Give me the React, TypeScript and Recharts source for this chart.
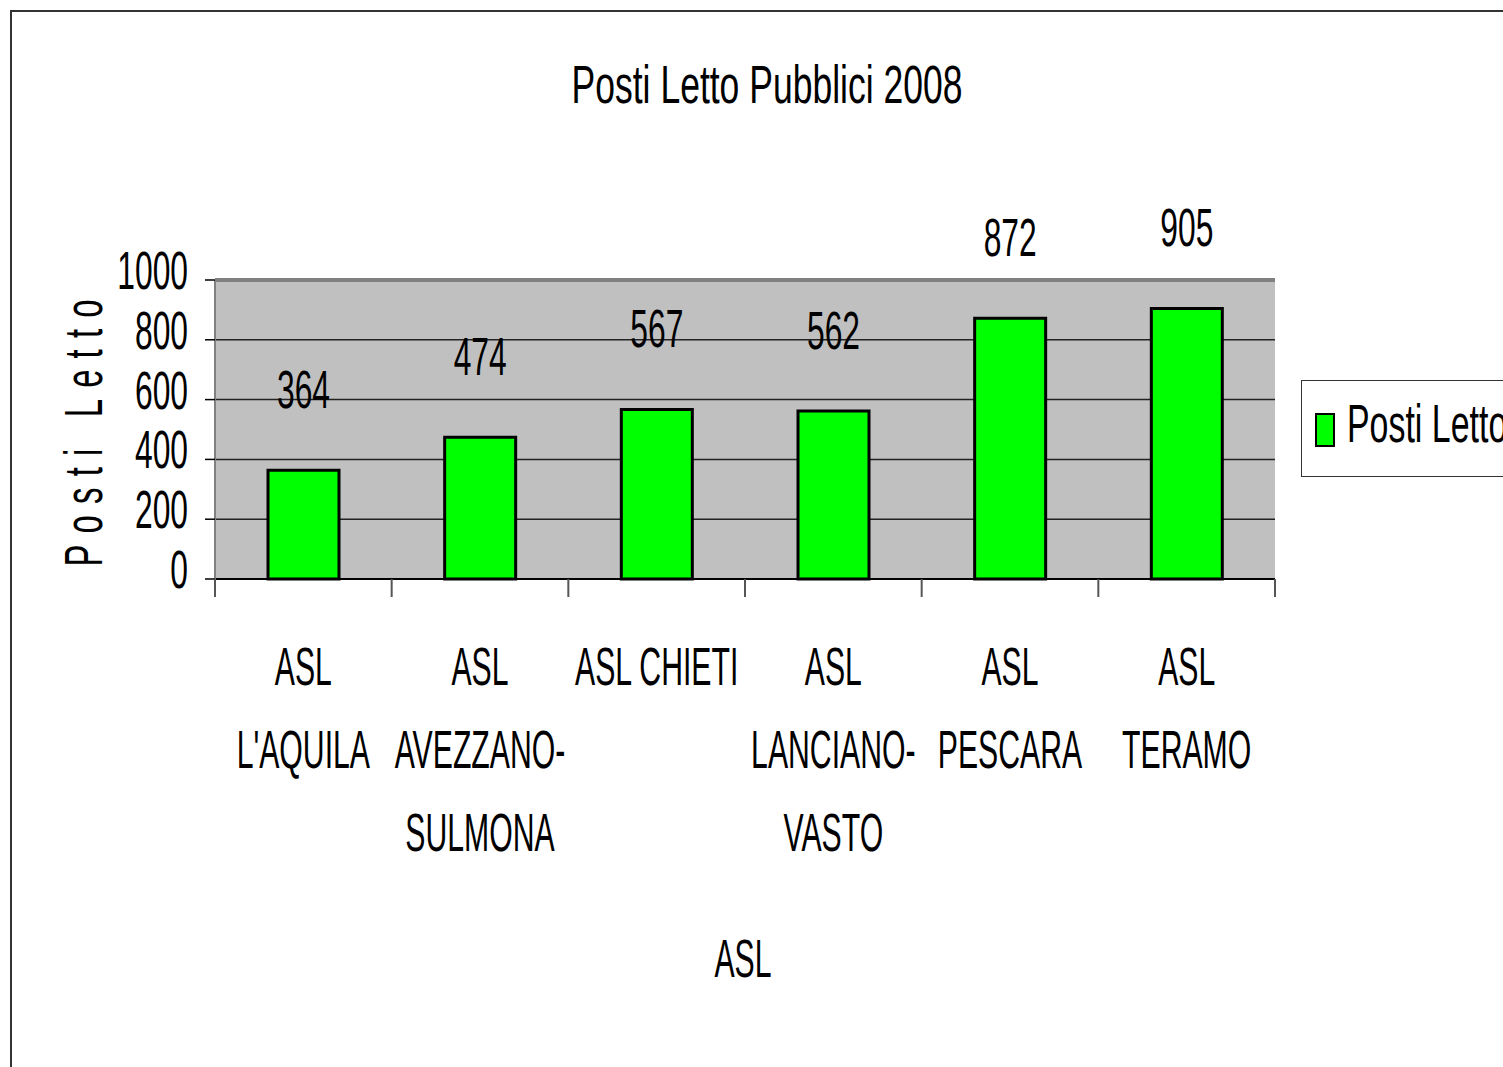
import React from "react";
import {
  Bar,
  BarChart,
  CartesianGrid,
  LabelList,
  Legend,
  ReferenceLine,
  XAxis,
  YAxis,
} from "recharts";

const categories = [
  "ASL L'AQUILA",
  "ASL AVEZZANO-SULMONA",
  "ASL CHIETI",
  "ASL LANCIANO-VASTO",
  "ASL PESCARA",
  "ASL TERAMO",
];
const postiLetto = [364, 474, 567, 562, 872, 905];
const yTicks = [0, 200, 400, 600, 800, 1000];

const FONT = "'Liberation Sans Narrow', 'Liberation Sans', Arial, sans-serif";
const W = 1503;
const H = 1067;
const PLOT_LEFT = 215;
const PLOT_RIGHT = 1275;
const PLOT_TOP = 280;
const PLOT_BOTTOM = 579;
const BAND = (PLOT_RIGHT - PLOT_LEFT) / categories.length;

// horizontal squeeze, the original uses a condensed face
const SX_CAPS = 0.57;
const SX_DIGITS = 0.6;
const SX_TITLE = 0.67;

const data = categories.map((name, i) => ({ name, value: postiLetto[i] }));

// rough width of a string, narrow glyphs count half
function approxWidth(s: string) {
  let w = 0;
  for (const c of s) w += " I'-.".includes(c) ? 0.5 : 1;
  return w;
}

// break a category name into lines, the way the original wraps it
function wrap(label: string, maxW = 9): string[] {
  const tokens = label.replace(/-/g, "- ").split(" ").filter(Boolean);
  const lines: string[] = [];
  let cur = "";
  for (const t of tokens) {
    const next = cur ? (cur.endsWith("-") ? cur + t : cur + " " + t) : t;
    if (cur && approxWidth(next) > maxW) {
      lines.push(cur);
      cur = t;
    } else {
      cur = next;
    }
  }
  if (cur) lines.push(cur);
  return lines;
}

function NText({
  x,
  y,
  anchor = "middle",
  sx = SX_CAPS,
  size = 53,
  children,
}: {
  x: number;
  y: number;
  anchor?: "start" | "middle" | "end";
  sx?: number;
  size?: number;
  children: React.ReactNode;
}) {
  return (
    <text
      transform={`translate(${x},${y}) scale(${sx},1)`}
      textAnchor={anchor}
      fontFamily={FONT}
      fontSize={size}
      fill="#000"
    >
      {children}
    </text>
  );
}

function XTick(props: any) {
  const { x, payload, index } = props;
  const lines = wrap(String(payload.value));
  const left = x - BAND / 2;
  return (
    <g>
      <line x1={left} x2={left} y1={PLOT_BOTTOM} y2={PLOT_BOTTOM + 18} stroke="#555" strokeWidth={2} />
      {index === categories.length - 1 && (
        <line x1={x + BAND / 2} x2={x + BAND / 2} y1={PLOT_BOTTOM} y2={PLOT_BOTTOM + 18} stroke="#555" strokeWidth={2} />
      )}
      {lines.map((l, i) => (
        <NText key={i} x={x} y={685 + i * 83}>
          {l}
        </NText>
      ))}
    </g>
  );
}

function YTick(props: any) {
  const { y, payload } = props;
  return (
    <NText x={188} y={y + 9} anchor="end" sx={SX_DIGITS}>
      {payload.value}
    </NText>
  );
}

function ValueLabel(props: any) {
  const { x, y, width, value } = props;
  return (
    <NText x={x + width / 2} y={y - 62} sx={SX_DIGITS}>
      {value}
    </NText>
  );
}

function LegendBox() {
  return (
    <div
      style={{
        position: "absolute",
        left: 1301,
        top: 380,
        width: 260,
        height: 97,
        border: "1px solid #333",
        background: "#fff",
        boxSizing: "border-box",
      }}
    >
      <div
        style={{
          position: "absolute",
          left: 13,
          top: 32,
          width: 16,
          height: 30,
          background: "#00ff00",
          border: "2px solid #000",
        }}
      />
      <div
        style={{
          position: "absolute",
          left: 45,
          top: 8,
          fontFamily: FONT,
          fontSize: 53,
          lineHeight: "70px",
          whiteSpace: "nowrap",
          transform: "scaleX(0.64)",
          transformOrigin: "left top",
          color: "#000",
        }}
      >
        Posti Letto
      </div>
    </div>
  );
}

export default function App() {
  return (
    <div
      style={{
        position: "absolute",
        left: 0,
        top: 0,
        width: W,
        height: H,
        overflow: "hidden",
        background: "#fff",
      }}
    >
      <div
        style={{
          position: "absolute",
          left: 10,
          top: 10,
          width: W,
          height: H,
          borderLeft: "2px solid #333",
          borderTop: "2px solid #333",
        }}
      />
      <BarChart
        width={W}
        height={H}
        data={data}
        margin={{ top: PLOT_TOP, right: W - PLOT_RIGHT, bottom: 0, left: 0 }}
        barCategoryGap="30%"
        style={{ position: "absolute", left: 0, top: 0 }}
      >
        <text
          transform={`translate(767,103) scale(${SX_TITLE},1)`}
          textAnchor="middle"
          fontFamily={FONT}
          fontSize={53}
        >
          Posti Letto Pubblici 2008
        </text>
        <CartesianGrid fill="#c0c0c0" vertical={false} stroke="#222" strokeWidth={1.5} />
        <XAxis
          dataKey="name"
          interval={0}
          height={H - PLOT_BOTTOM}
          axisLine={{ stroke: "#000", strokeWidth: 2 }}
          tickLine={false}
          tick={<XTick />}
          label={() => (
            <NText x={743} y={977}>
              ASL
            </NText>
          )}
        />
        <YAxis
          domain={[0, 1000]}
          ticks={yTicks}
          width={PLOT_LEFT}
          tickSize={10}
          axisLine={{ stroke: "#808080", strokeWidth: 2 }}
          tickLine={{ stroke: "#000", strokeWidth: 1.5 }}
          tick={<YTick />}
          label={() => (
            <text
              transform="translate(102,433) rotate(-90) scale(0.62,1)"
              textAnchor="middle"
              fontFamily={FONT}
              fontSize={53}
              textLength={267 / 0.62}
              lengthAdjust="spacing"
            >
              Posti Letto
            </text>
          )}
        />
        <YAxis
          yAxisId="r"
          orientation="right"
          domain={[0, 1000]}
          width={0}
          tick={false}
          tickLine={false}
          axisLine={{ stroke: "#808080", strokeWidth: 3 }}
        />
        <ReferenceLine y={1000} stroke="#808080" strokeWidth={4} />
        <Legend content={() => <LegendBox />} wrapperStyle={{ position: "absolute", left: 0, top: 0, width: 0, height: 0 }} />
        <Bar
          dataKey="value"
          name="Posti Letto"
          fill="#00ff00"
          stroke="#000"
          strokeWidth={3}
          isAnimationActive={false}
        >
          <LabelList dataKey="value" content={<ValueLabel />} />
        </Bar>
      </BarChart>
    </div>
  );
}
